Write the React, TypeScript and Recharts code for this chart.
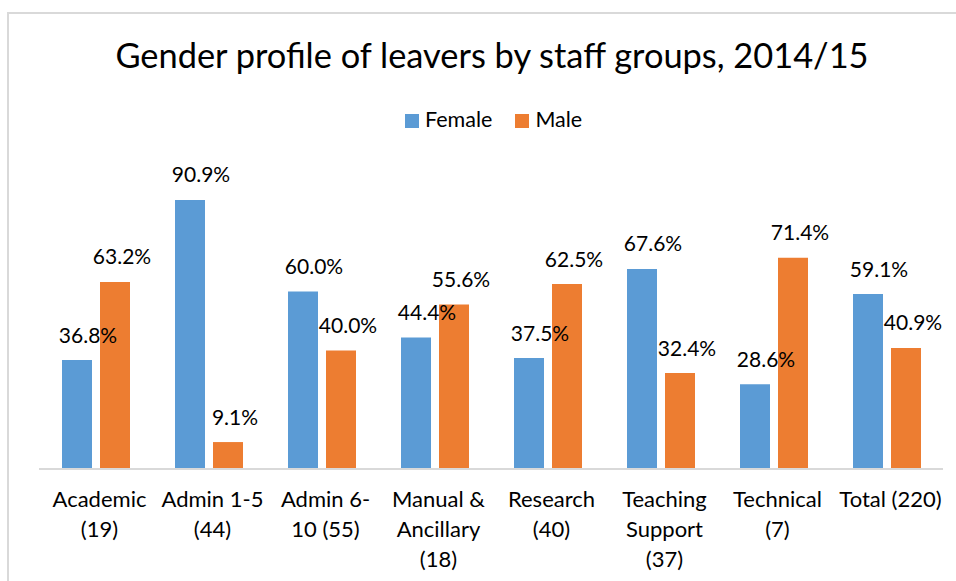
import React from 'react';
import { BarChart, Bar, XAxis, YAxis, Legend, LabelList } from 'recharts';

const chartTitle = 'Gender profile of leavers by staff groups, 2014/15';
const categories = [
  'Academic (19)',
  'Admin 1-5 (44)',
  'Admin 6-10 (55)',
  'Manual & Ancillary (18)',
  'Research (40)',
  'Teaching Support (37)',
  'Technical (7)',
  'Total (220)',
];
const tickLabelLines = [
  ['Academic', '(19)'],
  ['Admin 1-5', '(44)'],
  ['Admin 6-', '10 (55)'],
  ['Manual &', 'Ancillary', '(18)'],
  ['Research', '(40)'],
  ['Teaching', 'Support', '(37)'],
  ['Technical', '(7)'],
  ['Total (220)'],
];
const femalePct = [36.8, 90.9, 60.0, 44.4, 37.5, 67.6, 28.6, 59.1];
const malePct = [63.2, 9.1, 40.0, 55.6, 62.5, 32.4, 71.4, 40.9];

const data = categories.map((category, i) => ({
  category,
  female: femalePct[i],
  male: malePct[i],
}));

const W = 948;
const H = 568;
const FONT = 'Lato, "Open Sans", sans-serif';
const BLUE = '#5B9BD5';
const ORANGE = '#ED7D31';
const GRID = '#d9d9d9';

const CategoryTick = (props: any) => {
  const { x, y, payload } = props;
  const lines = tickLabelLines[payload.index] || [String(payload.value)];
  return (
    <g>
      {lines.map((line, i) => (
        <text
          key={i}
          x={Number(x) + 4}
          y={Number(y) + 38 + i * 30}
          textAnchor="middle"
          fontSize={22}
          fontFamily={FONT}
          fill="#000"
        >
          {line}
        </text>
      ))}
    </g>
  );
};

const makeLabel = (dx: number) => (props: any) => {
  const { x, y, width, value } = props;
  return (
    <text
      x={Number(x) + Number(width) / 2 + dx}
      y={Number(y) - 17.5}
      textAnchor="middle"
      fontSize={21}
      fontFamily={FONT}
      fill="#000"
    >
      {`${Number(value).toFixed(1)}%`}
    </text>
  );
};

const renderLegend = (props: any) => {
  const { payload } = props;
  return (
    <div style={{ display: 'flex', alignItems: 'center', fontFamily: FONT, whiteSpace: 'nowrap' }}>
      {(payload || []).map((entry: any, i: number) => (
        <div key={i} style={{ display: 'flex', alignItems: 'center', marginRight: i < payload.length - 1 ? 23 : 0 }}>
          <div style={{ width: 14, height: 14, background: entry.color, marginRight: 6, marginTop: 3 }} />
          <span style={{ fontSize: 21.5, lineHeight: '28px', color: '#000' }}>{entry.value}</span>
        </div>
      ))}
    </div>
  );
};

export default function App() {
  return (
    <div style={{ position: 'absolute', left: 8, top: 13, width: W, height: H, fontFamily: FONT }}>
      <div
        style={{
          position: 'absolute',
          left: -1,
          top: -1,
          width: W + 1,
          height: H + 1,
          borderTop: `2px solid ${GRID}`,
          borderLeft: `2px solid ${GRID}`,
          boxSizing: 'border-box',
        }}
      />
      <svg style={{ position: 'absolute', left: 0, top: 0 }} width={W} height={90}>
        <text x={484} y={54.7} textAnchor="middle" fontSize={34.4} fontFamily={FONT} fill="#000">
          {chartTitle}
        </text>
      </svg>
      <BarChart
        width={W}
        height={H}
        data={data}
        margin={{ top: 160, right: 13, left: 31, bottom: 0 }}
        barSize={30}
        barGap={8}
      >
        <XAxis
          dataKey="category"
          height={112}
          interval={0}
          tickLine={false}
          tickSize={0}
          tickMargin={0}
          axisLine={{ stroke: GRID, strokeWidth: 2 }}
          tick={<CategoryTick />}
        />
        <YAxis hide domain={[0, 100]} />
        <Legend
          verticalAlign="middle"
          align="center"
          layout="horizontal"
          content={renderLegend}
          wrapperStyle={{ top: 92, left: 397, width: 'auto' }}
        />
        <Bar dataKey="female" name="Female" fill={BLUE} isAnimationActive={false}>
          <LabelList dataKey="female" content={makeLabel(11)} />
        </Bar>
        <Bar dataKey="male" name="Male" fill={ORANGE} isAnimationActive={false}>
          <LabelList dataKey="male" content={makeLabel(7)} />
        </Bar>
      </BarChart>
    </div>
  );
}
